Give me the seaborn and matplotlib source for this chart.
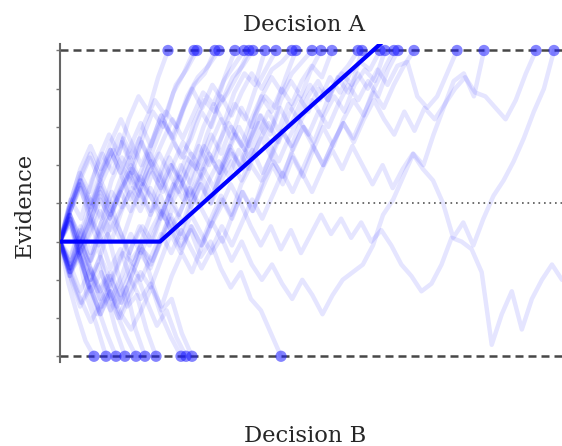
import numpy as np
import pandas as pd
import matplotlib
matplotlib.use("Agg")
import matplotlib.pyplot as plt
import seaborn as sns

# Decision bounds, starting point and the evidence level shown as a dotted line
upper_bound = 4.0
lower_bound = -4.0
start_point = -1.0
midline = 0.0

# Mean drift path: non-decision period, then linear accumulation
drift_t = [0.0, 1.0, 3.3]
drift_v = [-1.0, -1.0, 4.4]

# Times at which each trial reached a bound
upper_hits = [1.08, 1.34, 1.37, 1.55, 1.59, 1.75, 1.84, 1.89, 1.93, 2.05,
              2.16, 2.32, 2.36, 2.52, 2.61, 2.72, 2.98, 3.02, 3.20, 3.25,
              3.34, 3.38, 3.54, 3.97, 4.24, 4.76, 4.94]
lower_hits = [0.34, 0.46, 0.56, 0.65, 0.76, 0.85, 0.96, 1.21, 1.26, 1.32, 2.21]

# One trial that never reaches a bound before the end of the window
open_end = 5.02

# Evidence paths of the trials (equally spaced samples from t=0 to the end time)
upper_paths = [
    [-1.0, 0.0, 0.8, 0.3, 1.2, 1.8, 1.3, 2.2, 2.8, 2.4, 3.3, 4],
    [-1.0, -1.6, -0.8, 0.1, -0.4, 0.6, 1.2, 0.8, 1.7, 2.4, 2.0, 2.9, 3.4, 4],
    [-1.0, 0.1, -0.4, 0.6, 1.3, 0.8, 1.7, 1.2, 2.1, 2.7, 2.3, 3.1, 3.5, 4],
    [-1.0, -1.7, -1.0, -1.5, -0.5, 0.3, -0.1, 0.9, 0.5, 1.4, 2.1, 1.7, 2.5, 3.1, 3.4, 4],
    [-1.0, -0.2, 0.6, 0.0, 0.8, 1.4, 0.9, 0.4, 1.1, 1.8, 2.4, 2.0, 2.8, 3.3, 3.6, 4],
    [-1.0, -1.8, -1.2, -2.0, -1.3, -0.5, -1.0, -0.2, 0.5, 0.1, 1.0, 1.6, 1.2, 2.1, 2.7, 2.4, 3.3, 4],
    [-1.0, -0.2, 0.5, -0.2, 0.5, 1.1, 1.6, 1.0, 1.6, 1.0, 1.6, 2.2, 1.7, 2.3, 2.9, 2.6, 3.2, 3.6, 4],
    [-1.0, -1.9, -2.6, -2.0, -2.7, -2.0, -1.3, -1.6, -0.8, 0.0, -0.4, 0.5, 1.2, 0.9, 1.8, 2.5, 2.9, 3.4, 4],
    [-1.0, 0.0, 0.9, 1.5, 0.9, 1.6, 2.2, 1.6, 1.0, 1.6, 2.3, 1.7, 2.4, 3.0, 2.5, 3.1, 2.7, 3.3, 3.6, 4],
    [-1.0, -1.4, -0.6, -1.3, -0.5, -1.0, -0.2, 0.4, 0.0, 0.8, 0.3, 1.0, 1.6, 1.2, 2.0, 2.6, 2.1, 2.9, 3.4, 3.1, 4],
    [-1.0, -0.5, -1.5, -2.3, -1.8, -2.5, -1.9, -1.1, -0.6, -1.0, -0.2, 0.5, 0.1, 0.9, 1.5, 1.1, 2.0, 2.6, 2.2, 3.0, 3.5, 4],
    [-1.0, -0.2, 0.6, 0.0, 0.8, 1.4, 0.8, 1.5, 2.1, 1.5, 2.3, 1.8, 1.2, 1.7, 2.4, 2.0, 2.8, 2.3, 2.9, 3.4, 3.0, 3.5, 3.7, 4],
    [-1.0, -1.8, -2.5, -3.1, -2.6, -2.0, -2.6, -1.9, -1.2, -1.5, -0.8, -0.1, -0.5, 0.3, 0.9, 0.4, 1.2, 1.8, 1.4, 2.3, 2.8, 2.5, 3.3, 4],
    [-1.0, -0.3, -1.1, -0.5, 0.3, -0.3, 0.3, 0.9, 0.3, -0.2, 0.4, 1.0, 0.6, 1.3, 0.9, 1.6, 2.2, 1.7, 2.5, 2.0, 2.8, 3.3, 2.9, 3.4, 3.7, 4],
    [-1.0, -1.9, -1.2, -1.8, -2.5, -1.9, -2.6, -2.0, -1.3, -1.7, -1.0, -0.3, -0.8, -0.1, 0.5, 0.0, 0.8, 1.4, 0.9, 1.7, 2.3, 1.9, 2.7, 3.2, 2.8, 3.5, 4],
    [-1.0, -0.1, 0.7, 1.3, 0.7, 1.4, 0.8, 0.1, 0.7, 0.2, -0.4, 0.3, 1.0, 0.5, 1.2, 1.8, 1.3, 2.0, 1.5, 2.2, 2.8, 2.4, 3.0, 2.6, 3.2, 3.6, 3.3, 4],
    [-1.0, -1.5, -0.7, -1.5, -0.8, -0.2, -0.7, -1.3, -0.6, -1.1, -0.4, 0.2, -0.3, 0.4, -0.1, 0.6, 1.1, 0.7, 1.4, 0.9, 1.6, 2.1, 1.6, 2.3, 2.8, 2.4, 3.0, 2.7, 3.3, 3.6, 4],
    [-1.0, -1.9, -2.7, -2.2, -2.9, -2.3, -3.0, -2.4, -1.8, -2.2, -1.5, -0.8, -1.3, -0.6, -1.1, -0.4, 0.2, -0.3, 0.5, 1.0, 0.6, 1.3, 1.9, 1.5, 2.2, 2.7, 2.3, 3.0, 3.4, 3.1, 4],
    [-1.0, -0.3, -0.9, -0.2, 0.5, -0.1, 0.6, 1.2, 0.6, 1.3, 0.8, 0.2, 0.7, 0.1, 0.6, 1.2, 0.8, 1.5, 1.0, 1.7, 2.3, 1.8, 2.5, 2.0, 2.6, 3.1, 2.7, 3.3, 2.9, 3.4, 3.7, 3.5, 4],
    [-1.0, -1.8, -1.4, -2.2, -2.9, -2.3, -2.9, -3.3, -2.8, -2.2, -2.7, -1.9, -1.3, -1.8, -1.1, -0.5, -1.0, -0.3, 0.3, -0.2, 0.6, 1.1, 0.7, 1.5, 2.0, 1.6, 2.3, 2.8, 2.4, 3.1, 3.5, 3.2, 4],
    [-1.0, -0.4, -1.3, -2.0, -1.4, -2.0, -1.4, -0.8, -1.3, -0.7, -0.2, -0.7, -1.2, -0.6, -1.1, -0.5, 0.1, -0.4, 0.3, -0.2, 0.4, 1.0, 0.5, 1.2, 0.7, 1.4, 2.0, 1.5, 2.2, 2.7, 2.3, 3.0, 3.5, 4],
    [-1.0, -0.1, 0.6, 1.2, 0.6, 1.2, 1.8, 1.2, 1.7, 1.1, 0.6, 1.2, 0.7, 0.2, 0.7, 1.3, 0.8, 1.4, 2.0, 1.5, 2.1, 1.6, 1.1, 1.7, 2.2, 1.8, 2.4, 2.0, 2.6, 3.1, 2.7, 3.2, 2.8, 3.5, 4],
    [-1.0, -1.6, -2.3, -1.7, -2.3, -2.8, -2.2, -1.6, -2.0, -1.4, -0.8, -1.3, -0.7, -1.2, -1.7, -1.2, -0.6, -1.1, -0.5, 0.1, -0.4, 0.2, 0.8, 0.3, 0.9, 1.5, 1.0, 1.6, 2.1, 1.7, 2.3, 2.9, 2.5, 3.1, 3.6, 4],
    [-1.0, -0.3, -1.1, -0.5, 0.2, -0.4, 0.3, 0.8, 0.2, 0.8, 1.3, 0.8, 0.3, 0.9, 1.5, 1.0, 1.6, 2.1, 1.7, 1.2, 1.8, 2.4, 1.9, 2.6, 2.2, 2.8, 3.2, 2.7, 3.3, 2.9, 3.4, 3.0, 3.5, 3.1, 3.6, 3.7, 2.8, 2.5, 2.8, 3.4, 4],
    [-1.0, -1.6, -1.0, -1.7, -2.3, -1.8, -2.4, -1.8, -1.1, -1.6, -1.0, -0.4, -0.9, -0.3, -0.8, -1.3, -0.9, -1.5, -1.0, -1.6, -2.0, -1.6, -2.1, -2.5, -2.0, -2.4, -2.9, -2.4, -2.0, -1.8, -1.6, -1.1, -0.3, 0.1, 0.7, 1.3, 1.0, 1.8, 2.5, 3.2, 3.4, 2.8, 4],
    [-1.0, -0.2, 0.4, -0.3, 0.4, -0.2, 0.4, 1.0, 0.5, 1.1, 0.6, 0.0, 0.5, 1.1, 0.7, 0.2, 0.8, 1.3, 0.9, 1.4, 0.8, 1.3, 1.9, 1.4, 2.0, 1.5, 1.0, 1.6, 2.1, 1.6, 2.2, 2.7, 2.2, 1.8, 2.4, 1.9, 2.5, 2.2, 2.6, 3.0, 3.3, 2.9, 2.8, 2.5, 2.2, 2.7, 3.4, 4],
    [-1.0, -1.7, -1.1, -0.4, -0.9, -0.3, 0.3, -0.2, 0.4, 0.9, 0.4, 1.0, 0.5, -0.1, 0.5, 0.0, 0.6, 1.1, 0.6, 1.2, 1.7, 1.2, 0.7, 1.3, 0.8, 0.3, 0.9, 1.4, 0.9, 1.5, 1.0, 0.5, 1.0, 0.4, 0.9, 1.3, 0.9, 0.6, 0.0, -0.9, -0.5, -1.1, -0.4, 0.2, 0.6, 1.1, 1.7, 2.4, 3.0, 4],
]

lower_paths = [
    [-1.0, -2.1, -2.9, -3.6, -4],
    [-1.0, -1.8, -1.3, -2.5, -3.2, -4],
    [-1.0, -0.3, -1.3, -2.1, -2.7, -3.4, -4],
    [-1.0, -1.9, -1.2, -2.1, -2.9, -2.4, -3.3, -4],
    [-1.0, -0.3, -0.8, -1.6, -1.1, -2.2, -2.9, -3.5, -4],
    [-1.0, -1.7, -0.9, -1.5, -2.3, -1.9, -2.7, -2.2, -3.3, -4],
    [-1.0, -0.1, 0.5, -0.3, -1.1, -0.8, -1.8, -2.7, -2.4, -3.3, -4],
    [-1.0, -1.8, -1.1, -0.3, -0.9, -1.7, -1.2, -2.0, -2.5, -2.1, -2.9, -3.5, -4],
    [-1.0, -0.5, -1.4, -2.2, -1.6, -2.4, -3.0, -2.4, -1.9, -2.6, -3.2, -2.8, -3.5, -4],
    [-1.0, -0.1, 0.6, -0.1, 0.6, 0.0, -0.8, -1.5, -1.1, -2.0, -2.8, -2.5, -3.4, -4],
    [-1.0, -0.4, -1.3, -0.7, 0.1, -0.4, 0.3, 0.8, 0.3, -0.3, 0.2, -0.5, -1.1, -0.7, -1.4, -1.0, -1.7, -2.2, -1.8, -2.5, -2.8, -3.4, -4],
]

open_path = [-1.0, -0.4, -1.3, -0.8, -0.2, -0.7, -0.2, 0.3, -0.2, 0.4, -0.1, -0.7, -0.2, 0.4,
             -0.1, -0.6, -0.1, 0.5, 0.0, -0.6, -1.1, -0.6, -1.2, -0.7, -1.3, -0.8, -0.3, -0.8,
             -0.4, -0.9, -0.5, -1.0, -0.7, -1.1, -1.6, -1.9, -2.3, -2.1, -1.6, -0.9, -1.0, -1.2,
             -1.8, -3.7, -2.9, -2.3, -3.3, -2.5, -2.0, -1.6, -2.0]

# ---- long-form table of all trial paths ----
rows = []
trial = 0
for end_t, path in zip(upper_hits + lower_hits + [open_end],
                       upper_paths + lower_paths + [open_path]):
    ts = np.linspace(0.0, end_t, len(path))
    for t, v in zip(ts, path):
        rows.append((trial, t, v))
    trial += 1
paths_df = pd.DataFrame(rows, columns=["trial", "time", "evidence"])

hits_df = pd.DataFrame({
    "time": upper_hits + lower_hits,
    "evidence": [upper_bound] * len(upper_hits) + [lower_bound] * len(lower_hits),
})
drift_df = pd.DataFrame({"time": drift_t, "evidence": drift_v})

# ---- figure ----
sns.set_style("white")
plt.rcParams["font.family"] = ["DejaVu Serif"]

fig = plt.figure(figsize=(5.62, 4.46), dpi=100)
ax = fig.add_axes([60 / 562, 84 / 446, 502 / 562, 318 / 446])

sns.lineplot(data=paths_df, x="time", y="evidence", units="trial", estimator=None,
             color="#0000ff", alpha=0.10, lw=3.2, ax=ax, legend=False, zorder=1,
             solid_joinstyle="round")

ax.axhline(upper_bound, color="#333333", lw=1.8, ls=(0, (3.2, 2.0)), alpha=0.9, zorder=2)
ax.axhline(lower_bound, color="#333333", lw=1.8, ls=(0, (3.2, 2.0)), alpha=0.9, zorder=2)
ax.axhline(midline, color="#555555", lw=1.2, ls=(0, (1.0, 2.3)), zorder=2)

sns.scatterplot(data=hits_df, x="time", y="evidence", color="#2020ff", alpha=0.55,
                s=66, edgecolor="none", ax=ax, legend=False, zorder=3, clip_on=False)

sns.lineplot(data=drift_df, x="time", y="evidence", color="#0000ff", lw=3.0,
             ax=ax, legend=False, zorder=4)

ax.set_xlim(0, open_end)
ax.set_ylim(-4.15, 4.17)
ax.set_xlabel("")
ax.set_ylabel("")
ax.set_xticks([])
ax.set_yticks(np.arange(-4, 5, 1))
ax.set_yticklabels([])
ax.tick_params(axis="y", which="major", direction="out", length=3, width=1,
               color="#777777", left=True)
for side in ["top", "right", "bottom"]:
    ax.spines[side].set_visible(False)
ax.spines["left"].set_color("#666666")
ax.spines["left"].set_linewidth(1.5)
ax.patch.set_alpha(0)

fig.text(304 / 562, 1 - 25 / 446, "Decision A", ha="center", va="center", fontsize=16.3)
fig.text(305 / 562, 1 - 436 / 446, "Decision B", ha="center", va="center", fontsize=16.3)
fig.text(25 / 562, 1 - 205 / 446, "Evidence", ha="center", va="center", rotation=90,
         fontsize=16.3)

fig.savefig("out.png", dpi=100)
